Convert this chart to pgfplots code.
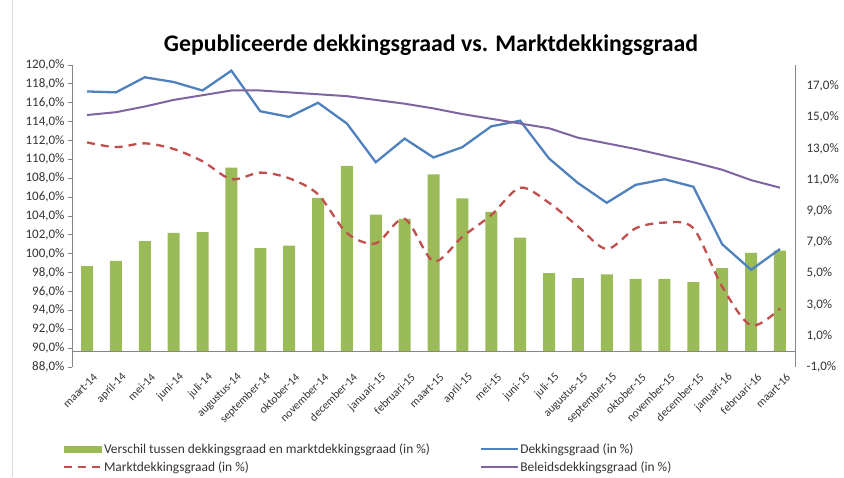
\documentclass[border=0pt]{standalone}
\usepackage{pgfplots}
\pgfplotsset{compat=1.18}
\usepackage{pgfplotstable}
\usepackage{fontspec}
\setmainfont{Carlito}
\definecolor{xgreen}{HTML}{9BBB59}
\definecolor{xblue}{HTML}{4F81BD}
\definecolor{xred}{HTML}{C0504D}
\definecolor{xpurple}{HTML}{8064A2}
\definecolor{xaxis}{HTML}{868686}

\pgfplotstableread{
idx verschil dekking markt beleid
0  5.47 117.2 111.8 114.7
1  5.80 117.1 111.3 115.0
2  7.07 118.7 111.7 115.6
3  7.59 118.2 111.1 116.3
4  7.65 117.3 109.8 116.8
5  11.77 119.4 107.9 117.3
6  6.62 115.1 108.6 117.3
7  6.77 114.5 108.0 117.1
8  9.84 116.0 106.3 116.9
9  11.88 113.8 102.2 116.7
10 8.77 109.7 101.1 116.3
11 8.49 112.2 103.7 115.9
12 11.34 110.2 99.2 115.4
13 9.80 111.3 101.8 114.8
14 8.94 113.5 104.1 114.3
15 7.29 114.1 107.0 113.8
16 5.02 110.1 105.4 113.3
17 4.69 107.5 102.9 112.3
18 4.93 105.4 100.5 111.7
19 4.65 107.3 102.7 111.1
20 4.65 107.9 103.3 110.4
21 4.44 107.1 102.7 109.7
22 5.34 101.0 96.5 108.9
23 6.32 98.3 92.4 107.8
24 6.45 100.5 94.2 107.0
}\datatable

\begin{document}
\begin{tikzpicture}[x=1pt,y=1pt]
\path[use as bounding box] (0,0) rectangle (844,-477);
\draw[gray!30, line width=0.8pt] (12,0) -- (12,-477);
\node[anchor=base, font=\bfseries\fontsize{23.8}{28}\selectfont] at (431,-51) {Gepubliceerde dekkingsgraad vs. Marktdekkingsgraad};

% right axis with bars
\begin{axis}[
  at={(72pt,-367pt)}, anchor=south west,
  width=723pt, height=302pt, scale only axis,
  xmin=-0.52, xmax=24.52,
  ymin=-1, ymax=18.35,
  axis y line*=right, axis x line=none,
  y axis line style={draw=xaxis, line width=0.8pt},
  ytick={-1,1,...,17},
  major tick length=0pt,
  /pgf/number format/assume math mode=true,
  yticklabel={\pgfmathprintnumber[fixed,fixed zerofill,precision=1,use comma]{\tick}\%},
  yticklabel style={font=\fontsize{13}{15}\selectfont, anchor=west, xshift=8pt, text=black!80},
]
\addplot[ybar, bar width=12pt, fill=xgreen, draw=none] table[x=idx, y=verschil] {\datatable};
\addplot[xaxis, line width=0.8pt, forget plot] coordinates {(-0.52,0) (24.52,0)};
\end{axis}

% left axis with lines
\begin{axis}[
  at={(72pt,-367pt)}, anchor=south west,
  width=723pt, height=302pt, scale only axis,
  xmin=-0.52, xmax=24.52,
  ymin=88, ymax=120,
  axis y line*=left, axis x line*=bottom,
  x axis line style={draw=none},
  y axis line style={draw=xaxis, line width=0.8pt},
  ytick={88,90,...,120},
  tick align=outside,
  major tick length=4pt,
  ytick style={draw=xaxis, line width=0.8pt},
  xtick style={draw=none},
  xtick={0,...,24},
  xticklabels={maart-14,april-14,mei-14,juni-14,juli-14,augustus-14,september-14,oktober-14,november-14,december-14,januari-15,februari-15,maart-15,april-15,mei-15,juni-15,juli-15,augustus-15,september-15,oktober-15,november-15,december-15,januari-16,februari-16,maart-16},
  xticklabel style={rotate=45, anchor=east, inner sep=0pt, xshift=3pt, yshift=-9pt, font=\fontsize{11.5}{13}\selectfont, text=black!80},
  /pgf/number format/assume math mode=true,
  yticklabel={\pgfmathprintnumber[fixed,fixed zerofill,precision=1,use comma]{\tick}\%},
  yticklabel style={font=\fontsize{13}{15}\selectfont, text=black!80},
  legend columns=2,
  legend cell align=left,
  legend style={at={(-0.0124,-0.25)}, anchor=north west, draw=none, fill=none,
    font=\fontsize{13.4}{15}\selectfont, text=black!80, row sep=6pt,
    nodes={inner sep=0.5pt},
    /tikz/every odd column/.append style={column sep=1pt},
    /tikz/every even column/.append style={column sep=49pt},
    inner sep=0pt},
  legend image code/.code={\draw[#1] (0pt,0pt) -- (37pt,0pt);},
]
\addlegendimage{legend image code/.code={\fill[xgreen] (0pt,-3pt) rectangle (37pt,3pt);}}
\addlegendentry{Verschil tussen dekkingsgraad en marktdekkingsgraad (in \%)}
\addplot[xblue, line width=2.3pt, mark=none] table[x=idx, y=dekking] {\datatable};
\addlegendentry{Dekkingsgraad (in \%)}
\addplot[xred, line width=2.3pt, mark=none, smooth, tension=0.5, dash pattern=on 8pt off 6pt] table[x=idx, y=markt] {\datatable};
\addlegendentry{Marktdekkingsgraad (in \%)}
\addplot[xpurple, line width=2pt, mark=none] table[x=idx, y=beleid] {\datatable};
\addlegendentry{Beleidsdekkingsgraad (in \%)}
\end{axis}
\end{tikzpicture}
\end{document}
